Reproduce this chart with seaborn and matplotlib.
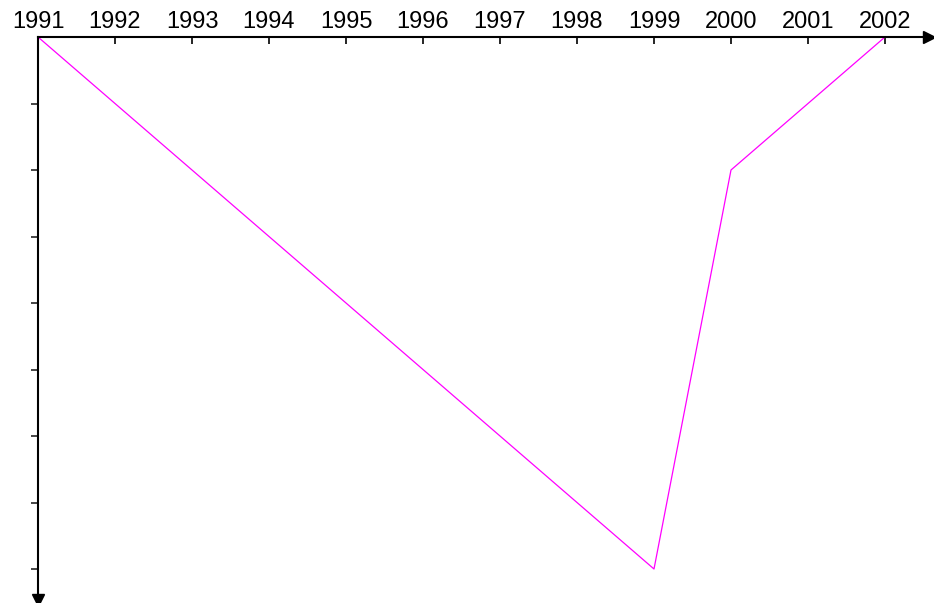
import matplotlib
matplotlib.use("Agg")
import matplotlib.pyplot as plt
import seaborn as sns
import pandas as pd

# years shown on the top axis
tickYears = [1991, 1992, 1993, 1994, 1995, 1996, 1997, 1998, 1999, 2000, 2001, 2002]

# vertices of the magenta line (value grows downward)
years = [1991, 1999, 2000, 2002]
values = [0, 8, 2, 0]

sns.set_style("white")
plt.rcParams['font.family'] = ['Liberation Sans', 'DejaVu Sans']

df = pd.DataFrame({'Year': years, 'Value': values})

fig = plt.figure(figsize=(9.34, 6.03), dpi=100)
ax = fig.add_axes([38 / 934, 3 / 603, (929 - 38) / 934, (603 - 37 - 3) / 603])

sns.lineplot(data=df, x='Year', y='Value', color='#FF00FF', linewidth=0.9, ax=ax)

# x axis sits on top, y axis runs downward
ax.set_xlim(1991, 1991 + (929 - 38) / 77.0)
ax.set_ylim((600 - 37) / 66.5, 0)
ax.xaxis.tick_top()
ax.set_xticks(tickYears)
ax.set_xticklabels([str(y) for y in tickYears])
ax.set_yticks(range(1, 9))
ax.set_yticklabels([])
ax.tick_params(axis='x', direction='in', length=5, width=1.2, pad=3,
               labelsize=17, colors='black', top=True, bottom=False)
ax.tick_params(axis='y', direction='out', length=5, width=1.2, left=True)
ax.set_xlabel('')
ax.set_ylabel('')

for side in ['right', 'bottom']:
    ax.spines[side].set_visible(False)
for side in ['top', 'left']:
    ax.spines[side].set_linewidth(1.5)
    ax.spines[side].set_color('black')

# arrow heads at the ends of both axes
ax.plot(1, 1, '>k', transform=ax.transAxes, clip_on=False, markersize=9)
ax.plot(0, 0, 'vk', transform=ax.transAxes, clip_on=False, markersize=9)

fig.savefig('out.png', dpi=100)
